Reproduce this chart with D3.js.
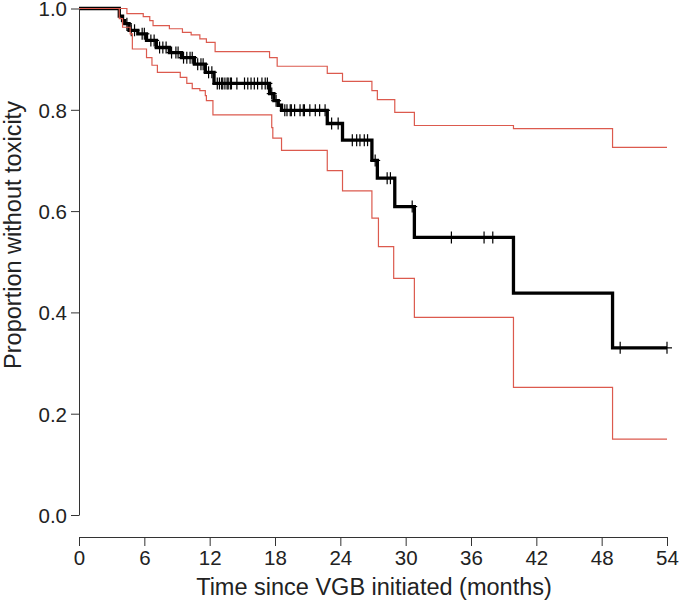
<!DOCTYPE html>
<html><head><meta charset="utf-8">
<script src="https://cdn.jsdelivr.net/npm/d3@7"></script>
<style>body{margin:0;background:#fff}svg{display:block}</style>
</head><body>
<svg id="c" width="680" height="608"></svg>
<script>
// Kaplan-Meier estimate (step after each time)
const kmTime = [0, 3.7, 4.0, 4.2, 4.6, 5.4, 6.2, 7.1, 8.3, 9.4, 10.6, 11.6, 12.4, 17.5, 17.9, 18.3, 18.6, 22.8, 24.2, 26.9, 27.4, 29.0, 30.8, 39.9, 49.0];
const kmSurv = [1.0, 0.985, 0.976, 0.97, 0.957, 0.95, 0.937, 0.923, 0.913, 0.903, 0.89, 0.874, 0.852, 0.832, 0.818, 0.809, 0.799, 0.773, 0.74, 0.70, 0.665, 0.609, 0.548, 0.438, 0.33];
// Upper confidence limit
const hiTime = [0, 4.4, 5.9, 6.5, 6.8, 8.3, 9.5, 10.3, 11.1, 11.7, 12.5, 17.5, 18.2, 22.8, 24.2, 26.9, 27.4, 29.0, 30.8, 39.9, 49.0];
const hiVal  = [1.0, 0.99, 0.984, 0.976, 0.966, 0.96, 0.953, 0.948, 0.94, 0.933, 0.915, 0.903, 0.886, 0.872, 0.856, 0.838, 0.82, 0.795, 0.769, 0.763, 0.726];
// Lower confidence limit
const loTime = [0, 3.7, 4.0, 4.7, 4.9, 6.2, 6.7, 7.2, 9.3, 9.9, 10.4, 11.1, 11.6, 11.7, 12.3, 17.7, 17.8, 18.6, 22.8, 24.2, 26.9, 27.5, 28.9, 30.8, 39.9, 49.0];
const loVal  = [1.0, 0.98, 0.963, 0.95, 0.92, 0.903, 0.888, 0.874, 0.864, 0.852, 0.842, 0.838, 0.828, 0.818, 0.79, 0.765, 0.744, 0.72, 0.68, 0.64, 0.586, 0.53, 0.467, 0.39, 0.252, 0.15];
// Censoring times
const censorTimes = [4.4, 4.8, 5.1, 5.8, 6.0, 6.6, 6.9, 7.4, 7.7, 8.0, 8.5, 8.9, 9.1, 9.6, 9.9, 10.2, 10.4, 10.9, 11.2, 11.4, 11.9, 12.2,
  12.7, 12.9, 13.1, 13.2, 13.4, 13.6, 13.7, 13.9, 14.0, 14.5, 15.2, 15.5, 15.8, 16.1, 16.4, 16.8, 17.1, 17.3, 17.7, 18.1,
  18.9, 19.1, 19.4, 19.5, 19.8, 20.3, 20.6, 20.7, 21.2, 21.7, 22.1, 22.6, 23.2, 23.8, 25.1, 25.5, 25.8, 26.2, 26.5, 27.2,
  28.3, 28.6, 30.6, 34.2, 37.2, 38.0, 49.7, 54.0];
const xTicks = [0, 6, 12, 18, 24, 30, 36, 42, 48, 54];
const yTicks = [0, 0.2, 0.4, 0.6, 0.8, 1.0];
const tEnd = 54;
const xTitle = "Time since VGB initiated (months)";
const yTitle = "Proportion without toxicity";

const svg = d3.select("#c");
const x = d3.scaleLinear().domain([0, 54]).range([79, 667]);
const y = d3.scaleLinear().domain([0, 1]).range([515, 8.5]);
const font = "'Liberation Sans', Arial, sans-serif";

function pts(ts, vs) {
  const p = ts.map((t, i) => [t, vs[i]]);
  p.push([tEnd, vs[vs.length - 1]]);
  return p;
}
const line = d3.line().x(d => x(d[0])).y(d => y(d[1])).curve(d3.curveStepAfter);

// KM curve
svg.append("path").attr("d", line(pts(kmTime, kmSurv)))
  .attr("fill", "none").attr("stroke", "#000").attr("stroke-width", 3.3);
// censor marks
const stepVal = t => { let v = kmSurv[0]; for (let i = 0; i < kmTime.length; i++) if (kmTime[i] <= t) v = kmSurv[i]; return v; };
const cg = svg.append("g").attr("stroke", "#000").attr("stroke-width", 1.2);
censorTimes.forEach(t => {
  const cx = x(t), cy = y(stepVal(t));
  cg.append("line").attr("x1", cx).attr("x2", cx).attr("y1", cy - 6).attr("y2", cy + 6);
  cg.append("line").attr("x1", cx - 5).attr("x2", cx + 5).attr("y1", cy).attr("y2", cy);
});
// CI lines
[[hiTime, hiVal], [loTime, loVal]].forEach(([ts, vs]) => {
  svg.append("path").attr("d", line(pts(ts, vs)))
    .attr("fill", "none").attr("stroke", "#dc5a4e").attr("stroke-width", 1.2);
});

// Y axis
const ya = svg.append("g").attr("transform", "translate(79,0)")
  .call(d3.axisLeft(y).tickValues(yTicks).tickFormat(d3.format(".1f")).tickSize(8).tickSizeOuter(0).tickPadding(4));
// X axis
const xa = svg.append("g").attr("transform", "translate(0,537)")
  .call(d3.axisBottom(x).tickValues(xTicks).tickFormat(d3.format("d")).tickSize(9).tickSizeOuter(0).tickPadding(4));
[ya, xa].forEach(g => {
  g.selectAll("path,line").attr("stroke", "#333").attr("stroke-width", 1);
  g.selectAll("text").attr("fill", "#222").style("font-family", font).style("font-size", "20.5px");
});
ya.selectAll(".tick text").attr("dy", "0.36em");

svg.append("text").attr("x", 374).attr("y", 595).attr("text-anchor", "middle")
  .style("font-family", font).style("font-size", "23.5px").attr("fill", "#222").text(xTitle);
svg.append("text").attr("transform", "translate(21,235) rotate(-90)").attr("text-anchor", "middle")
  .style("font-family", font).style("font-size", "23.5px").attr("fill", "#222").text(yTitle);
</script>
</body></html>
